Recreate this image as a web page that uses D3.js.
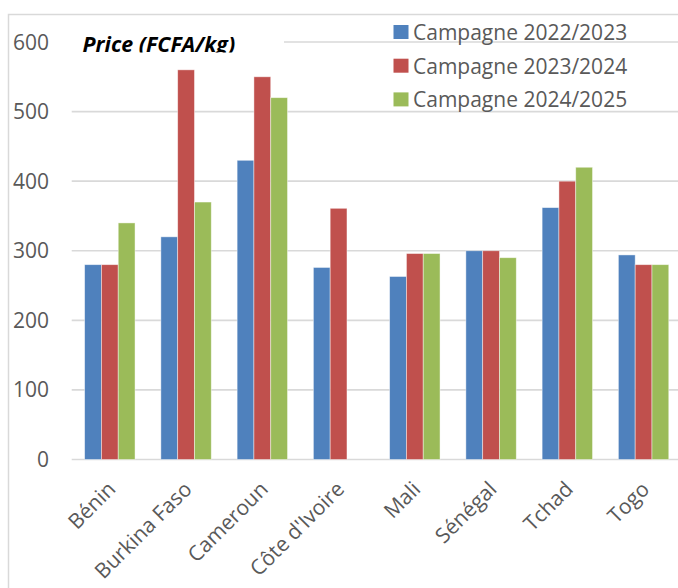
<!DOCTYPE html>
<html>
<head>
<meta charset="utf-8">
<script src="https://cdn.jsdelivr.net/npm/d3@7"></script>
<style>
  html, body { margin: 0; padding: 0; background: #fff; }
  svg { display: block; }
  text { font-family: "Open Sans", "Noto Sans", sans-serif; }
</style>
</head>
<body>
<svg id="chart" width="678" height="588"></svg>
<script>
// ---- data ----
const categories = ["Bénin", "Burkina Faso", "Cameroun", "Côte d'Ivoire", "Mali", "Sénégal", "Tchad", "Togo"];
const seriesNames = ["Campagne 2022/2023", "Campagne 2023/2024", "Campagne 2024/2025"];
const values2022 = [280, 320, 430, 276, 263, 300, 362, 294];
const values2023 = [280, 560, 550, 361, 296, 300, 400, 280];
const values2024 = [340, 370, 520, null, 296, 290, 420, 280];
const yTicks = [0, 100, 200, 300, 400, 500, 600];
const yTitle = "Price (FCFA/kg)";
const colors = ["#4f81bd", "#c0504d", "#9bbb59"];

const seriesValues = [values2022, values2023, values2024];

const svg = d3.select("#chart");

// layout
const plotLeft = 71.7, plotRight = 681.7, plotTop = 42, plotBottom = 459.5;

// outer chart border
svg.append("rect")
  .attr("x", 8.5).attr("y", 14.5)
  .attr("width", 720).attr("height", 620)
  .attr("fill", "none")
  .attr("stroke", "#d9d9d9")
  .attr("stroke-width", 1.5);

const x = d3.scaleBand()
  .domain(categories)
  .range([plotLeft, plotRight])
  .paddingInner(0.339)
  .paddingOuter(0.1695);

const xs = d3.scaleBand()
  .domain(d3.range(seriesNames.length))
  .range([0, x.bandwidth()]);

const y = d3.scaleLinear()
  .domain([0, 600])
  .range([plotBottom, plotTop]);

// gridlines
svg.append("g")
  .selectAll("line")
  .data(yTicks)
  .join("line")
  .attr("x1", plotLeft).attr("x2", plotRight)
  .attr("y1", d => y(d)).attr("y2", d => y(d))
  .attr("stroke", "#d9d9d9")
  .attr("stroke-width", 1.6);

// y tick labels
svg.append("g")
  .selectAll("text")
  .data(yTicks)
  .join("text")
  .attr("x", 49)
  .attr("y", d => y(d) + 7.5)
  .attr("text-anchor", "end")
  .attr("font-size", 21)
  .attr("fill", "#595959")
  .text(d => d3.format("d")(d));

// bars
const rows = [];
categories.forEach((c, i) => {
  seriesValues.forEach((vals, s) => {
    if (vals[i] != null) rows.push({ cat: c, s: s, v: vals[i] });
  });
});

svg.append("g")
  .selectAll("rect")
  .data(rows)
  .join("rect")
  .attr("x", d => x(d.cat) + xs(d.s))
  .attr("y", d => y(d.v))
  .attr("width", xs.bandwidth())
  .attr("height", d => y(0) - y(d.v))
  .attr("fill", d => colors[d.s])
  .attr("stroke", "rgba(255,255,255,0.55)")
  .attr("stroke-width", 0.8);

// x labels
svg.append("g")
  .selectAll("text")
  .data(categories)
  .join("text")
  .attr("transform", d => `translate(${x(d) + x.bandwidth() / 2 + 7},${plotBottom + 31}) rotate(-45)`)
  .attr("text-anchor", "end")
  .attr("font-size", 21)
  .attr("fill", "#595959")
  .text(d => d);

// title box (covers gridline) with clipped text
const defs = svg.append("defs");
defs.append("clipPath").attr("id", "titleClip")
  .append("rect").attr("x", 60).attr("y", 20).attr("width", 224).attr("height", 32.5);
const tg = svg.append("g").attr("clip-path", "url(#titleClip)");
tg.append("rect").attr("x", 60).attr("y", 20).attr("width", 224).attr("height", 32.5).attr("fill", "#fff");
tg.append("text")
  .attr("x", 82.5).attr("y", 51.5)
  .attr("font-size", 21.4)
  .attr("font-weight", "bold")
  .attr("font-style", "italic")
  .attr("fill", "#000")
  .text(yTitle);

// legend
const legendBaselines = [40, 73.7, 107.4];
const lg = svg.append("g");
seriesNames.forEach((name, i) => {
  lg.append("rect")
    .attr("x", 393.5).attr("y", legendBaselines[i] - 15)
    .attr("width", 15).attr("height", 14)
    .attr("fill", colors[i]);
  lg.append("text")
    .attr("x", 413).attr("y", legendBaselines[i])
    .attr("font-size", 21)
    .attr("fill", "#595959")
    .text(name);
});
</script>
</body>
</html>
